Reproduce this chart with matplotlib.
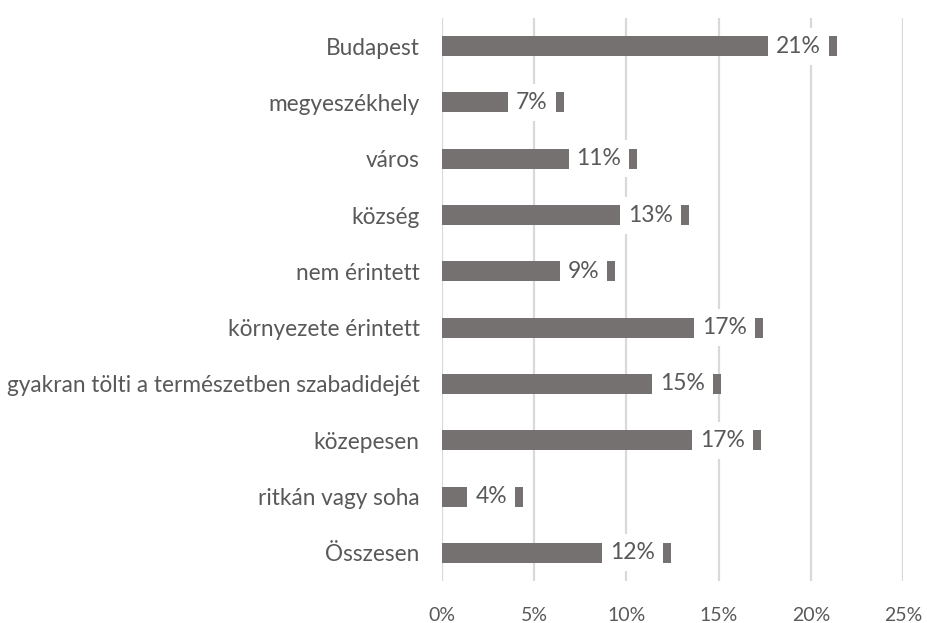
import matplotlib
matplotlib.use("Agg")
import matplotlib.pyplot as plt
from matplotlib.ticker import FuncFormatter

plt.rcParams["font.family"] = ["Lato", "DejaVu Sans"]

categories = ["Budapest", "megyeszékhely", "város", "község", "nem érintett",
              "környezete érintett", "gyakran tölti a természetben szabadidejét",
              "közepesen", "ritkán vagy soha", "Összesen"]
values = [21.4, 6.6, 10.6, 13.4, 9.4, 17.4, 15.1, 17.3, 4.4, 12.4]
xticks = [0, 5, 10, 15, 20, 25]

bar_color = "#767171"
text_color = "#595959"

fig = plt.figure(figsize=(9.28, 6.23), dpi=100)
ax = fig.add_axes([0.476, 0.0674, 0.4974, 0.9037])

ypos = list(range(len(categories)))
ax.barh(ypos, values, height=0.355, color=bar_color, zorder=2)

for y, v in zip(ypos, values):
    ax.annotate(f"{round(v)}%", xy=(v, y), xytext=(-11.5, 0), textcoords="offset points",
                ha="right", va="center", fontsize=16.5, color=text_color, zorder=3,
                bbox=dict(boxstyle="square,pad=0.35", fc="white", ec="none"))

ax.set_xlim(0, 25)
ax.set_ylim(len(categories) - 0.5, -0.5)
ax.set_xticks(xticks)
ax.xaxis.set_major_formatter(FuncFormatter(lambda x, _: f"{x:.0f}%"))
ax.set_yticks(ypos)
ax.set_yticklabels(categories)
ax.grid(axis="x", color="#d9d9d9", linewidth=1.6, zorder=0)
ax.set_axisbelow(True)
for s in ax.spines.values():
    s.set_visible(False)
ax.tick_params(axis="x", length=0, pad=19, labelsize=14, labelcolor=text_color)
ax.tick_params(axis="y", length=0, pad=16, labelsize=16.3, labelcolor=text_color)

fig.savefig("out.png", dpi=100)
